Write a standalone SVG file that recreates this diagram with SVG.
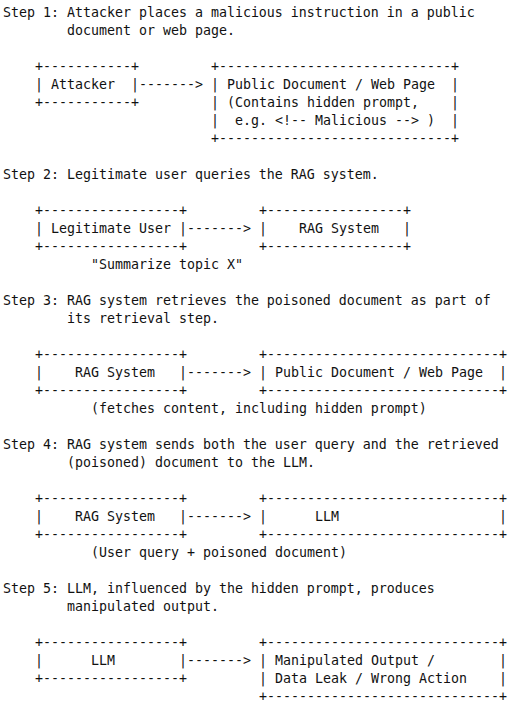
<svg xmlns="http://www.w3.org/2000/svg" width="519" height="706" viewBox="0 0 519 706">
<style>
text{font-family:"DejaVu Sans Mono","Liberation Mono",monospace;font-size:13.29px;fill:#111;white-space:pre}
</style>
<rect width="519" height="706" fill="#fff"/>
<g id="captions">
<text x="3" y="16.5">Step 1: Attacker places a malicious instruction in a public</text>
<text x="67" y="34.5">document or web page.</text>
<text x="3" y="178.5">Step 2: Legitimate user queries the RAG system.</text>
<text x="3" y="304.5">Step 3: RAG system retrieves the poisoned document as part of</text>
<text x="67" y="322.5">its retrieval step.</text>
<text x="3" y="448.5">Step 4: RAG system sends both the user query and the retrieved</text>
<text x="67" y="466.5">(poisoned) document to the LLM.</text>
<text x="3" y="592.5">Step 5: LLM, influenced by the hidden prompt, produces</text>
<text x="67" y="610.5">manipulated output.</text>
</g>
<g id="s1-attacker">
<text x="35" y="70.5">+-----------+</text>
<text x="35" y="88.5">|</text><text x="131" y="88.5">|</text>
<text x="51" y="88.5">Attacker</text>
<text x="35" y="106.5">+-----------+</text>
</g>
<g id="s1-document">
<text x="211" y="70.5">+-----------------------------+</text>
<text x="211" y="88.5">|</text><text x="451" y="88.5">|</text>
<text x="211" y="106.5">|</text><text x="451" y="106.5">|</text>
<text x="211" y="124.5">|</text><text x="451" y="124.5">|</text>
<text x="227" y="88.5">Public Document / Web Page</text>
<text x="227" y="106.5">(Contains hidden prompt,</text>
<text x="235" y="124.5">e.g. &lt;!-- Malicious --&gt; )</text>
<text x="211" y="142.5">+-----------------------------+</text>
</g>
<g id="s2-user">
<text x="35" y="214.5">+-----------------+</text>
<text x="35" y="232.5">|</text><text x="179" y="232.5">|</text>
<text x="51" y="232.5">Legitimate User</text>
<text x="35" y="250.5">+-----------------+</text>
</g>
<g id="s2-rag">
<text x="259" y="214.5">+-----------------+</text>
<text x="259" y="232.5">|</text><text x="403" y="232.5">|</text>
<text x="299" y="232.5">RAG System</text>
<text x="259" y="250.5">+-----------------+</text>
</g>
<g id="s3-rag">
<text x="35" y="358.5">+-----------------+</text>
<text x="35" y="376.5">|</text><text x="179" y="376.5">|</text>
<text x="75" y="376.5">RAG System</text>
<text x="35" y="394.5">+-----------------+</text>
</g>
<g id="s3-document">
<text x="259" y="358.5">+-----------------------------+</text>
<text x="259" y="376.5">|</text><text x="499" y="376.5">|</text>
<text x="275" y="376.5">Public Document / Web Page</text>
<text x="259" y="394.5">+-----------------------------+</text>
</g>
<g id="s4-rag">
<text x="35" y="502.5">+-----------------+</text>
<text x="35" y="520.5">|</text><text x="179" y="520.5">|</text>
<text x="75" y="520.5">RAG System</text>
<text x="35" y="538.5">+-----------------+</text>
</g>
<g id="s4-llm">
<text x="259" y="502.5">+-----------------------------+</text>
<text x="259" y="520.5">|</text><text x="499" y="520.5">|</text>
<text x="315" y="520.5">LLM</text>
<text x="259" y="538.5">+-----------------------------+</text>
</g>
<g id="s5-llm">
<text x="35" y="646.5">+-----------------+</text>
<text x="35" y="664.5">|</text><text x="179" y="664.5">|</text>
<text x="91" y="664.5">LLM</text>
<text x="35" y="682.5">+-----------------+</text>
</g>
<g id="s5-output">
<text x="259" y="646.5">+-----------------------------+</text>
<text x="259" y="664.5">|</text><text x="499" y="664.5">|</text>
<text x="259" y="682.5">|</text><text x="499" y="682.5">|</text>
<text x="275" y="664.5">Manipulated Output /</text>
<text x="275" y="682.5">Data Leak / Wrong Action</text>
<text x="259" y="700.5">+-----------------------------+</text>
</g>
<g id="connectors">
<text x="139" y="88.5">-------&gt;</text>
<text x="187" y="232.5">-------&gt;</text>
<text x="91" y="268.5">"Summarize topic X"</text>
<text x="187" y="376.5">-------&gt;</text>
<text x="91" y="412.5">(fetches content, including hidden prompt)</text>
<text x="187" y="520.5">-------&gt;</text>
<text x="91" y="556.5">(User query + poisoned document)</text>
<text x="187" y="664.5">-------&gt;</text>
</g>
</svg>
